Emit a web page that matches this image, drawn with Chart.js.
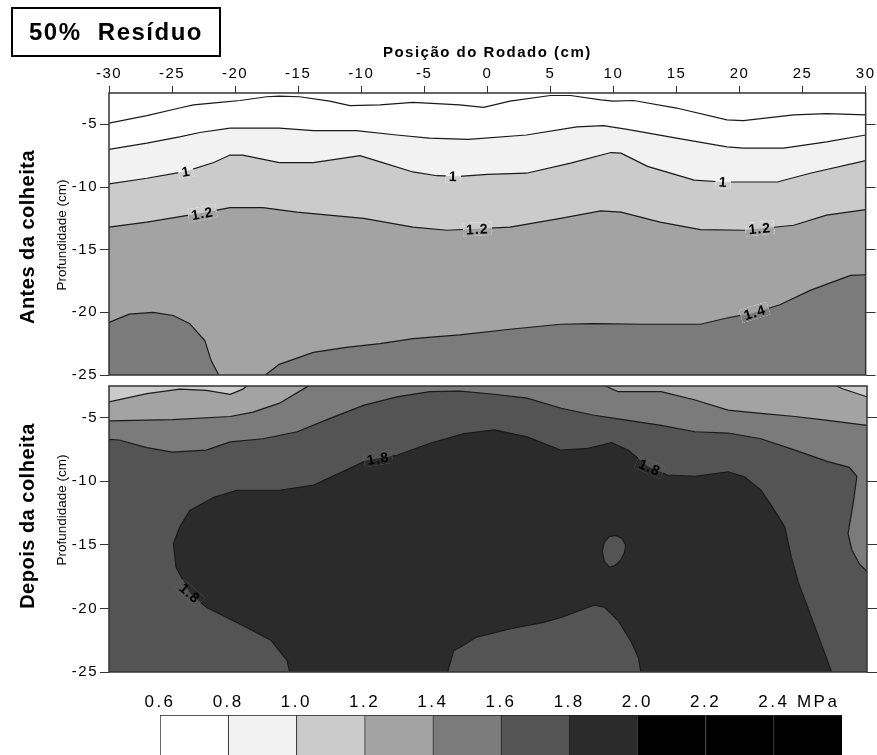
<!DOCTYPE html>
<html>
<head>
<meta charset="utf-8">
<script src="https://cdn.jsdelivr.net/npm/chart.js@4.4.1/dist/chart.umd.min.js"></script>
<style>
html, body { margin: 0; padding: 0; background: #fff; overflow: hidden; }
#wrap { position: relative; width: 877px; height: 755px; }
canvas { position: absolute; left: 0; }
#titulo {
  position: absolute; left: 11px; top: 7px; width: 210px; height: 50px;
  box-sizing: border-box; border: 2px solid #000; color: #000;
  font: bold 24px 'Liberation Sans', Arial, sans-serif; letter-spacing: 1.5px;
  text-align: center; line-height: 46px;
}
</style>
</head>
<body>
<div id="wrap">
  <canvas id="antes" width="877" height="380" style="top:0;width:877px;height:380px"></canvas>
  <canvas id="depois" width="877" height="300" style="top:380px;width:877px;height:300px"></canvas>
  <canvas id="escala" width="877" height="90" style="top:680px;width:877px;height:90px"></canvas>
  <div id="titulo">50%&nbsp; Resíduo</div>
</div>
<script>
const FONT = "'Liberation Sans', Arial, sans-serif";

// eixos
const X_MIN = -30, X_MAX = 30, Y_MIN = -25, Y_MAX = -2.5;
const X_TICKS = [-30, -25, -20, -15, -10, -5, 0, 5, 10, 15, 20, 25, 30];
const Y_TICKS = [-5, -10, -15, -20, -25];

// escala de cores (MPa)
const LEVELS = [0.6, 0.8, 1.0, 1.2, 1.4, 1.6, 1.8, 2.0, 2.2, 2.4];
const SHADES = ['#ffffff', '#f2f2f2', '#cbcbcb', '#a3a3a3', '#7b7b7b', '#545454', '#2b2b2b', '#000000', '#000000', '#000000'];

// Antes da colheita - isolinhas [posicao, profundidade]
const ANTES_06 = [[-30,-4.9],[-27,-4.3],[-24.4,-3.7],[-23.3,-3.45],[-21.2,-3.25],[-19.6,-3.1],[-17.5,-2.8],[-16.5,-2.75],[-14.9,-2.8],[-12.5,-3.15],[-10.9,-3.5],[-8.5,-3.45],[-5.9,-3.25],[-2.2,-3.45],[-0.3,-3.65],[1.8,-3.15],[5,-2.7],[6.6,-2.7],[9,-3.05],[10,-3.15],[11.6,-3.1],[15,-3.7],[19,-4.65],[20.3,-4.7],[24.3,-4.25],[26.9,-4.15],[30,-4.25]];
const ANTES_08 = [[-30,-7],[-27,-6.5],[-24.4,-6],[-22.8,-5.65],[-20.4,-5.3],[-16.5,-5.3],[-13.8,-5.5],[-10.4,-5.5],[-7.2,-5.85],[-4.6,-6.1],[-1.5,-6.2],[3.1,-5.85],[7.1,-5.2],[9.2,-5.1],[11.1,-5.4],[15,-6.1],[19,-6.8],[20.3,-6.9],[23.5,-6.9],[26.9,-6.4],[30,-5.85]];
const ANTES_10 = [[-30,-9.75],[-27,-9.3],[-23.9,-8.75],[-21.7,-8.05],[-20.4,-7.45],[-19.4,-7.45],[-16.5,-8.05],[-13.8,-8.05],[-11.4,-7.7],[-10.1,-7.5],[-8.5,-8],[-5.9,-8.8],[-4,-9.1],[-2.2,-9.15],[0,-9],[3.1,-8.9],[6.6,-8.1],[9.8,-7.25],[10.6,-7.3],[12.7,-8.35],[16.4,-9.45],[18.7,-9.6],[23,-9.6],[25.6,-8.9],[30,-7.9]];
const ANTES_12 = [[-30,-13.2],[-27,-12.8],[-22.8,-12.1],[-20.4,-11.65],[-17.8,-11.65],[-15.1,-12],[-9.8,-12.5],[-5.9,-13.2],[-3.2,-13.45],[1.8,-13.2],[5.8,-12.5],[9,-11.9],[10.6,-12],[13.7,-12.8],[16.9,-13.4],[20.3,-13.45],[24.3,-13.05],[26.9,-12.25],[30,-11.8]];
const ANTES_14_ESQ = [[-30,-20.8],[-28.4,-20.15],[-26.5,-20],[-24.9,-20.25],[-23.6,-20.9],[-22.4,-22.25],[-21.9,-23.85],[-21.3,-25]];
const ANTES_14_DIR = [[-17.6,-25],[-16.5,-24.15],[-13.8,-23.2],[-11.2,-22.8],[-8.5,-22.5],[-5.9,-22.1],[-2.2,-21.8],[1.8,-21.35],[5.8,-20.95],[8.4,-20.9],[12.4,-20.95],[16.9,-20.95],[19,-20.45],[21.1,-20.05],[23.2,-19.4],[25.6,-18.25],[28.8,-17.05],[30,-17]];
const ANTES_ROTULOS = [['1',-23.9,-8.75],['1',-2.7,-9.15],['1',18.7,-9.6],['1.2',-22.6,-12.1],['1.2',-0.8,-13.35],['1.2',21.6,-13.3],['1.4',21.2,-20]];

// Depois da colheita
const DEPOIS_10 = [[-30,-3.75],[-27,-3.1],[-24.4,-2.75],[-22.3,-2.85],[-20.4,-3.15],[-19.4,-2.75],[-19.1,-2.5]];
const DEPOIS_10_DIR = [[27.6,-2.5],[28,-2.7],[30,-3.35]];
const DEPOIS_12_ESQ = [[-30,-5.25],[-25,-5.15],[-20.4,-4.9],[-18.6,-4.55],[-16.5,-3.85],[-14.3,-2.55],[-14.2,-2.5]];
const DEPOIS_12_DIR = [[9.3,-2.5],[10.3,-2.95],[13.7,-2.95],[16.4,-3.6],[19,-4.4],[21.6,-4.65],[24.3,-4.9],[26.9,-5.2],[30,-5.6]];
const DEPOIS_14 = [[-30,-6.7],[-29.2,-6.75],[-27,-7.35],[-25,-7.7],[-22.3,-7.55],[-20.4,-6.9],[-17.8,-6.65],[-15.1,-6.1],[-12.5,-5.05],[-9.8,-4],[-7.2,-3.35],[-4.6,-2.95],[-2.2,-2.9],[0.5,-3.15],[3.1,-3.45],[5.8,-4.25],[8.4,-4.8],[11.1,-5.2],[13.7,-5.6],[16.4,-6.1],[19,-6.2],[21.6,-6.65],[24.3,-7.55],[26.9,-8.45],[28.6,-8.9],[29.2,-9.6],[28.9,-11.75],[28.5,-14.1],[28.8,-15.4],[29.4,-16.5],[30,-17.1]];
const DEPOIS_18 = [[-15.7,-25],[-15.9,-24.1],[-17.2,-22.5],[-19.1,-21.5],[-22.3,-19.9],[-23.6,-18.8],[-24.7,-16.75],[-24.9,-14.9],[-24.4,-13.6],[-23.6,-12.3],[-21.7,-11.25],[-19.9,-10.7],[-16.5,-10.7],[-13.8,-10.3],[-11.2,-9.1],[-9.6,-8.35],[-7.2,-7.95],[-4.6,-7],[-1.9,-6.25],[0.5,-5.95],[3.1,-6.5],[5.8,-7.55],[7.9,-7.4],[9.8,-6.95],[11.1,-7.55],[12.7,-8.85],[14.2,-9.5],[16.4,-9.6],[19,-9.25],[20.3,-9.65],[21.6,-10.7],[22.4,-11.85],[23.5,-13.6],[24,-15.95],[24.6,-18.05],[25.6,-20.7],[27.2,-25]];
const DEPOIS_18_BAIXO = [[-3.2,-25],[-2.7,-23.3],[-2.2,-23.05],[-0.9,-22.25],[1.8,-21.6],[4.4,-21.1],[5.8,-20.7],[8.4,-19.75],[9.2,-19.9],[10.3,-20.95],[11.3,-22.55],[11.9,-23.85],[12.1,-25]];
const DEPOIS_18_ILHA = [[10.1,-14.25],[10.6,-14.5],[10.9,-15],[10.8,-15.6],[10.5,-16.2],[10,-16.65],[9.6,-16.75],[9.2,-16.3],[9.05,-15.5],[9.2,-14.8],[9.6,-14.35],[10.1,-14.25]];
const DEPOIS_ROTULOS = [['1.8',-8.7,-8.2],['1.8',12.8,-8.9],['1.8',-23.6,-18.8]];

// monta o poligono de uma faixa a partir da isolinha
function faixa(line, side, band) {
  let pts;
  if (side === 'tudo') pts = [[X_MIN, Y_MAX], [X_MAX, Y_MAX], [X_MAX, Y_MIN], [X_MIN, Y_MIN]];
  else if (side === 'fechado') pts = line;
  else {
    const yb = side === 'abaixo' ? Y_MIN : Y_MAX;
    pts = line.concat([[line[line.length - 1][0], yb], [line[0][0], yb]]);
  }
  return { pts: pts, color: SHADES[band] };
}

function toXY(pts) { return pts.map(p => ({ x: p[0], y: p[1] })); }

function buildDatasets(regions, lines) {
  let ds = [];
  regions.forEach(r => ds.push({
    data: toXY(r.pts), fill: 'shape', backgroundColor: r.color,
    borderColor: 'transparent', borderWidth: 0, pointRadius: 0, tension: 0
  }));
  lines.forEach(l => ds.push({
    data: toXY(l), fill: false, borderColor: '#1a1a1a', borderWidth: 1.2,
    pointRadius: 0, tension: 0
  }));
  ds.forEach((d, i) => d.order = ds.length - i);
  return ds;
}

function distSeg(px, py, a, b) {
  const dx = b[0] - a[0], dy = b[1] - a[1];
  let t = ((px - a[0]) * dx + (py - a[1]) * dy) / (dx * dx + dy * dy || 1);
  t = Math.max(0, Math.min(1, t));
  return Math.hypot(px - a[0] - t * dx, py - a[1] - t * dy);
}

function panelPlugin(regions, lines, labels, side) {
  return {
    id: 'painel',
    beforeDraw(chart) { chart.ctx.letterSpacing = '1.5px'; },
    afterDatasetsDraw(chart) {
      const ctx = chart.ctx, a = chart.chartArea, sx = chart.scales.x, sy = chart.scales.y;
      const px = p => [sx.getPixelForValue(p[0]), sy.getPixelForValue(p[1])];
      ctx.save();
      ctx.font = 'bold 14px ' + FONT;
      ctx.letterSpacing = '1px';
      labels.forEach(([text, lx, ly]) => {
        const [cx, cy] = px([lx, ly]);
        // direcao da isolinha mais proxima
        let best = null, bd = Infinity;
        lines.forEach(l => {
          for (let i = 0; i < l.length - 1; i++) {
            const p = px(l[i]), q = px(l[i + 1]);
            const d = distSeg(cx, cy, p, q);
            if (d < bd) { bd = d; best = [p, q]; }
          }
        });
        let ang = Math.atan2(best[1][1] - best[0][1], best[1][0] - best[0][0]);
        if (ang > Math.PI / 2) ang -= Math.PI;
        if (ang < -Math.PI / 2) ang += Math.PI;
        const w = ctx.measureText(text).width + 6, h = 13;
        ctx.save();
        ctx.beginPath(); ctx.rect(a.left, a.top, a.width, a.height); ctx.clip();
        ctx.translate(cx, cy); ctx.rotate(ang);
        ctx.beginPath(); ctx.rect(-w / 2, -h / 2, w, h); ctx.clip();
        ctx.rotate(-ang); ctx.translate(-cx, -cy);
        regions.forEach(r => {
          ctx.beginPath();
          r.pts.forEach((p, i) => { const q = px(p); if (i) ctx.lineTo(q[0], q[1]); else ctx.moveTo(q[0], q[1]); });
          ctx.closePath();
          ctx.fillStyle = r.color;
          ctx.fill();
        });
        ctx.translate(cx, cy); ctx.rotate(ang);
        ctx.fillStyle = '#000'; ctx.textAlign = 'center'; ctx.textBaseline = 'middle';
        ctx.fillText(text, 0, 1);
        ctx.restore();
      });
      ctx.restore();
    },
    afterDraw(chart) {
      const ctx = chart.ctx, a = chart.chartArea;
      ctx.save();
      ctx.strokeStyle = '#333'; ctx.lineWidth = 1.5;
      ctx.strokeRect(a.left, a.top, a.width, a.height);
      ctx.fillStyle = '#000'; ctx.textAlign = 'center'; ctx.textBaseline = 'middle';
      ctx.translate(side.x, side.y); ctx.rotate(-Math.PI / 2);
      ctx.font = 'bold 20px ' + FONT; ctx.letterSpacing = '0.5px';
      ctx.fillText(side.text, 0, 0);
      ctx.restore();
      ctx.save();
      ctx.fillStyle = '#000'; ctx.textAlign = 'center'; ctx.textBaseline = 'middle';
      ctx.translate(side.subX, side.subY); ctx.rotate(-Math.PI / 2);
      ctx.font = '13.5px ' + FONT; ctx.letterSpacing = '0px';
      ctx.fillText('Profundidade (cm)', 0, 0);
      ctx.restore();
    }
  };
}

function noPad(s) { s.paddingTop = 0; s.paddingBottom = 0; }

function panelOptions(showX, padTop, padBottom) {
  const tickFont = { family: FONT, size: 15 };
  return {
    responsive: false, animation: false, events: [],
    layout: { padding: { left: 0, right: 0, top: padTop, bottom: padBottom } },
    plugins: { legend: { display: false }, tooltip: { enabled: false } },
    scales: {
      x: {
        type: 'linear', position: 'top', min: X_MIN, max: X_MAX, display: showX,
        afterBuildTicks: s => { s.ticks = X_TICKS.map(v => ({ value: v })); },
        afterFit: s => { s.height = showX ? 93 : 0; },
        grid: { drawOnChartArea: false, tickLength: 7, color: '#333' },
        border: { display: false },
        ticks: { padding: 3, color: '#000', font: tickFont, autoSkip: false, maxRotation: 0 },
        title: { display: true, text: 'Posição do Rodado (cm)', color: '#000',
                 font: { family: FONT, size: 15, weight: 'bold' }, padding: { top: 44, bottom: 0 } }
      },
      y: {
        type: 'linear', position: 'left', min: Y_MIN, max: Y_MAX,
        afterBuildTicks: s => { s.ticks = Y_TICKS.map(v => ({ value: v })); },
        afterFit: s => { s.width = 109; noPad(s); },
        grid: { drawOnChartArea: false, tickLength: 9, color: '#333' },
        border: { display: false },
        ticks: { padding: 2, color: '#000', font: tickFont }
      },
      y2: {
        type: 'linear', position: 'right', min: Y_MIN, max: Y_MAX,
        afterBuildTicks: s => { s.ticks = Y_TICKS.map(v => ({ value: v })); },
        afterFit: s => { s.width = 10; noPad(s); },
        grid: { drawOnChartArea: false, tickLength: 10, color: '#333' },
        border: { display: false },
        ticks: { display: false }
      }
    }
  };
}

// painel superior
const antesRegions = [
  faixa(null, 'tudo', 0),
  faixa(ANTES_08, 'abaixo', 1),
  faixa(ANTES_10, 'abaixo', 2),
  faixa(ANTES_12, 'abaixo', 3),
  faixa(ANTES_14_DIR, 'abaixo', 4),
  faixa(ANTES_14_ESQ, 'abaixo', 4)
];
const antesLines = [ANTES_06, ANTES_08, ANTES_10, ANTES_12, ANTES_14_DIR, ANTES_14_ESQ];
new Chart(document.getElementById('antes'), {
  type: 'line',
  data: { datasets: buildDatasets(antesRegions, antesLines) },
  options: panelOptions(true, 0, 5),
  plugins: [panelPlugin(antesRegions, antesLines, ANTES_ROTULOS,
    { text: 'Antes da colheita', x: 28, y: 237, subX: 62, subY: 235 })]
});

// painel inferior
const depoisRegions = [
  faixa(null, 'tudo', 4),
  faixa(DEPOIS_12_ESQ, 'acima', 3),
  faixa(DEPOIS_12_DIR, 'acima', 3),
  faixa(DEPOIS_10, 'acima', 2),
  faixa(DEPOIS_10_DIR, 'acima', 2),
  faixa(DEPOIS_14, 'abaixo', 5),
  faixa(DEPOIS_18, 'abaixo', 6),
  faixa(DEPOIS_18_BAIXO, 'abaixo', 5),
  faixa(DEPOIS_18_ILHA, 'fechado', 5)
];
const depoisLines = [DEPOIS_10, DEPOIS_10_DIR, DEPOIS_12_ESQ, DEPOIS_12_DIR, DEPOIS_14, DEPOIS_18, DEPOIS_18_BAIXO, DEPOIS_18_ILHA];
new Chart(document.getElementById('depois'), {
  type: 'line',
  data: { datasets: buildDatasets(depoisRegions, depoisLines) },
  options: panelOptions(false, 6, 8),
  plugins: [panelPlugin(depoisRegions, depoisLines, DEPOIS_ROTULOS,
    { text: 'Depois da colheita', x: 28, y: 136, subX: 62, subY: 130 })]
});

// barra de cores
const UNIT_AT = 2.53;
new Chart(document.getElementById('escala'), {
  type: 'bar',
  data: {
    datasets: [{
      data: LEVELS.map(v => ({ x: v + 0.1, y: 1 })),
      backgroundColor: SHADES,
      borderColor: '#222',
      borderWidth: { top: 1, left: 1, right: 0, bottom: 0 },
      borderSkipped: false,
      barThickness: 'flex',
      barPercentage: 1, categoryPercentage: 1
    }]
  },
  options: {
    responsive: false, animation: false, events: [],
    layout: { padding: { left: 160, right: 35, top: 0, bottom: 0 } },
    plugins: { legend: { display: false }, tooltip: { enabled: false } },
    scales: {
      x: {
        type: 'linear', position: 'top', min: 0.6, max: 2.6, offset: false,
        afterBuildTicks: s => { s.ticks = LEVELS.map(v => ({ value: v })).concat([{ value: UNIT_AT }]); },
        afterFit: s => { s.height = 35; },
        grid: { display: false, drawTicks: false }, border: { display: false },
        ticks: {
          callback: v => v === UNIT_AT ? 'MPa' : v.toFixed(1),
          padding: 2, color: '#000', font: { family: FONT, size: 17 }, autoSkip: false, maxRotation: 0
        }
      },
      y: { display: false, min: 0, max: 1 }
    }
  },
  plugins: [{ id: 'espaco', beforeDraw(chart) { chart.ctx.letterSpacing = '2.5px'; } }]
});
</script>
</body>
</html>
